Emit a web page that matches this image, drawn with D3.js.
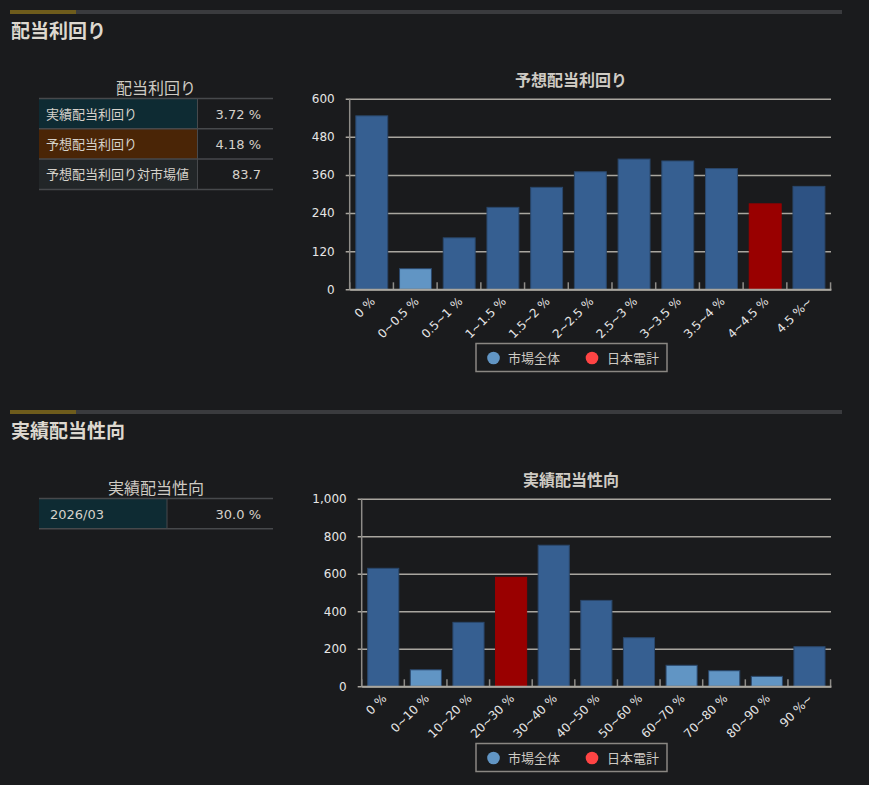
<!DOCTYPE html>
<html>
<head>
<meta charset="utf-8">
<script src="https://cdn.jsdelivr.net/npm/d3@7"></script>
<style>
  body { margin: 0; background: #1a1b1d; }
  svg text { font-family: "DejaVu Sans", "Noto Sans CJK JP", sans-serif; }
</style>
</head>
<body>
<svg id="page"></svg>
<script>
// data
var yieldBins = ["0 %", "0~0.5 %", "0.5~1 %", "1~1.5 %", "1.5~2 %", "2~2.5 %", "2.5~3 %", "3~3.5 %", "3.5~4 %", "4~4.5 %", "4.5 %~"];
var yieldCounts = [546, 65, 162, 258, 321, 370, 410, 404, 380, 269, 324];
var yieldTicks = [0, 120, 240, 360, 480, 600];
var yieldCompanyBin = "4~4.5 %";

var payoutBins = ["0 %", "0~10 %", "10~20 %", "20~30 %", "30~40 %", "40~50 %", "50~60 %", "60~70 %", "70~80 %", "80~90 %", "90 %~"];
var payoutCounts = [629, 88, 341, 581, 752, 458, 259, 112, 83, 53, 211];
var payoutTicks = [0, 200, 400, 600, 800, 1000];
var payoutCompanyBin = "20~30 %";

var legendNames = ["市場全体", "日本電計"];

var yieldRowLabels = ["実績配当利回り", "予想配当利回り", "予想配当利回り対市場値"];
var yieldRowValues = ["3.72 %", "4.18 %", "83.7"];
var payoutRowLabels = ["2026/03"];
var payoutRowValues = ["30.0 %"];

var width = 869;
var height = 785;
var cjk = "'Noto Sans CJK JP', sans-serif";

var svg = d3.select("#page")
  .attr("width", width)
  .attr("height", height);

var darkBar = "#365f91";
var lightBar = "#6195c4";
var companyBar = "#990000";

// section heading with the gold/grey rule above it
var drawHeading = function(top, title)
{
  svg.append("rect")
    .attr("x", 10).attr("y", top)
    .attr("width", 832).attr("height", 4)
    .attr("fill", "#3a3b3e");
  svg.append("rect")
    .attr("x", 10).attr("y", top)
    .attr("width", 66).attr("height", 4)
    .attr("fill", "#6e5c1c");
  svg.append("text")
    .attr("x", 11).attr("y", top + 28)
    .style("font-family", cjk)
    .attr("font-size", "19px")
    .attr("font-weight", "bold")
    .attr("fill", "#ddd8cf")
    .text(title);
};

var drawTable = function(top, title, labels, values, splitX, labelColors, labelIndent)
{
  var left = 39, right = 273, rowH = 30.3;
  svg.append("text")
    .attr("x", (left + right) / 2).attr("y", top - 5)
    .attr("text-anchor", "middle")
    .style("font-family", cjk)
    .attr("font-size", "16px")
    .attr("fill", "#cfcbc4")
    .text(title);

  var rows = svg.append("g");
  rows.selectAll("rect")
    .data(labels)
    .enter()
    .append("rect")
    .attr("x", left)
    .attr("y", function(d, i) { return top + i * rowH; })
    .attr("width", splitX - left)
    .attr("height", rowH)
    .attr("fill", function(d, i) { return labelColors[i]; });

  rows.selectAll("line.row")
    .data(d3.range(labels.length + 1))
    .enter()
    .append("line")
    .attr("class", "row")
    .attr("x1", left).attr("x2", right)
    .attr("y1", function(i) { return top + i * rowH; })
    .attr("y2", function(i) { return top + i * rowH; })
    .attr("stroke", "#47494c")
    .attr("stroke-width", 1.5);

  rows.append("line")
    .attr("x1", splitX).attr("x2", splitX)
    .attr("y1", top).attr("y2", top + labels.length * rowH)
    .attr("stroke", "#47494c");

  rows.selectAll("text.lab")
    .data(labels)
    .enter()
    .append("text")
    .attr("class", "lab")
    .attr("x", left + labelIndent)
    .attr("y", function(d, i) { return top + i * rowH + 20; })
    .attr("font-size", "13px")
    .attr("fill", "#d6d2cb")
    .text(function(d) { return d; });

  rows.selectAll("text.val")
    .data(values)
    .enter()
    .append("text")
    .attr("class", "val")
    .attr("x", 261)
    .attr("y", function(d, i) { return top + i * rowH + 20; })
    .attr("text-anchor", "end")
    .attr("font-size", "13px")
    .attr("fill", "#d6d2cb")
    .text(function(d) { return d; });
};

var drawChart = function(o)
{
  var x = d3.scaleBand()
    .domain(o.bins)
    .range([o.left, o.right])
    .paddingInner(0.27)
    .paddingOuter(0.14);

  var y = d3.scaleLinear()
    .domain([0, o.ticks[o.ticks.length - 1]])
    .range([o.bottom, o.top]);

  var light = d3.scaleThreshold().domain([150]).range([lightBar, darkBar]);

  var g = svg.append("g");

  g.append("text")
    .attr("x", 571).attr("y", o.top - 13)
    .attr("text-anchor", "middle")
    .style("font-family", cjk)
    .attr("font-size", "16px")
    .attr("font-weight", "bold")
    .attr("fill", "#cfcbc4")
    .text(o.title);

  // y axis with grid lines
  var yAxis = g.append("g")
    .attr("transform", "translate(" + o.left + ",0)")
    .call(d3.axisLeft(y)
      .tickValues(o.ticks)
      .tickSize(-(o.right - o.left))
      .tickPadding(15)
      .tickFormat(d3.format(",")));
  yAxis.select(".domain").remove();
  yAxis.selectAll(".tick line")
    .attr("x1", -4)
    .attr("stroke", "#a9a69f")
    .attr("stroke-width", 1.5);
  yAxis.selectAll(".tick text")
    .attr("font-family", null)
    .attr("font-size", "12px")
    .attr("fill", "#e6e6e6");

  g.append("line")
    .attr("x1", o.left).attr("x2", o.left)
    .attr("y1", o.top).attr("y2", o.bottom)
    .attr("stroke", "#8e8c88")
    .attr("stroke-width", 1.5);

  g.selectAll("rect.bar")
    .data(o.counts)
    .enter()
    .append("rect")
    .attr("class", "bar")
    .attr("x", function(d, i) { return x(o.bins[i]); })
    .attr("y", function(d) { return y(d); })
    .attr("width", x.bandwidth())
    .attr("height", function(d) { return o.bottom - y(d); })
    .attr("fill", function(d, i) {
      if (o.bins[i] == o.company) return companyBar;
      if (o.openShade && i == o.bins.length - 1) return o.openShade;
      return light(d);
    })
    .attr("stroke", function(d, i) {
      if (o.bins[i] == o.company) return companyBar;
      return "#2a476b";
    })
    .attr("stroke-width", 1);

  // x axis line and boundary ticks
  var step = x.step();
  g.selectAll("line.bound")
    .data(d3.range(o.bins.length + 1))
    .enter()
    .append("line")
    .attr("class", "bound")
    .attr("x1", function(i) { return o.left + i * step; })
    .attr("x2", function(i) { return o.left + i * step; })
    .attr("y1", o.bottom - 7)
    .attr("y2", o.bottom)
    .attr("stroke", "#8e8c88")
    .attr("stroke-width", 1.5);

  var xAxis = g.append("g")
    .attr("transform", "translate(0," + o.bottom + ")")
    .call(d3.axisBottom(x).tickSize(0).tickPadding(0));
  xAxis.select(".domain")
    .attr("stroke", "#a9a69f")
    .attr("stroke-width", 2);
  xAxis.selectAll(".tick text")
    .attr("font-family", null)
    .attr("font-size", "12px")
    .attr("fill", "#e6e6e6")
    .attr("text-anchor", "end")
    .attr("dy", null)
    .attr("y", null)
    .attr("transform", "translate(4,13) rotate(-45)");

  // legend
  var lg = g.append("g")
    .attr("transform", "translate(476," + o.legendTop + ")");
  lg.append("rect")
    .attr("width", 191).attr("height", 28)
    .attr("fill", "none")
    .attr("stroke", "#8a8782")
    .attr("stroke-width", 1.5);
  lg.selectAll("circle")
    .data(legendNames)
    .enter()
    .append("circle")
    .attr("cx", function(d, i) { return 17.5 + i * 98.5; })
    .attr("cy", 14.5)
    .attr("r", 6.3)
    .attr("fill", function(d, i) { return i == 0 ? lightBar : "#ff4444"; });
  lg.selectAll("text")
    .data(legendNames)
    .enter()
    .append("text")
    .attr("x", function(d, i) { return 32 + i * 99; })
    .attr("y", 19)
    .style("font-family", cjk)
    .attr("font-size", "13px")
    .attr("fill", "#cfcbc4")
    .text(function(d) { return d; });
};

drawHeading(10, "配当利回り");
drawTable(98.5, "配当利回り", yieldRowLabels, yieldRowValues, 197.5, ["#0e2b33", "#4a2506", "#222628"], 7);
drawChart({
  title: "予想配当利回り",
  bins: yieldBins, counts: yieldCounts, ticks: yieldTicks, company: yieldCompanyBin,
  left: 349.7, right: 831, top: 98.7, bottom: 289.3, legendTop: 343.5,
  openShade: "#2d5283"
});

drawHeading(410, "実績配当性向");
drawTable(498.5, "実績配当性向", payoutRowLabels, payoutRowValues, 167, ["#0e2b33"], 11);
drawChart({
  title: "実績配当性向",
  bins: payoutBins, counts: payoutCounts, ticks: payoutTicks, company: payoutCompanyBin,
  left: 361.7, right: 831, top: 498.7, bottom: 686.3, legendTop: 743.5
});
</script>
</body>
</html>
